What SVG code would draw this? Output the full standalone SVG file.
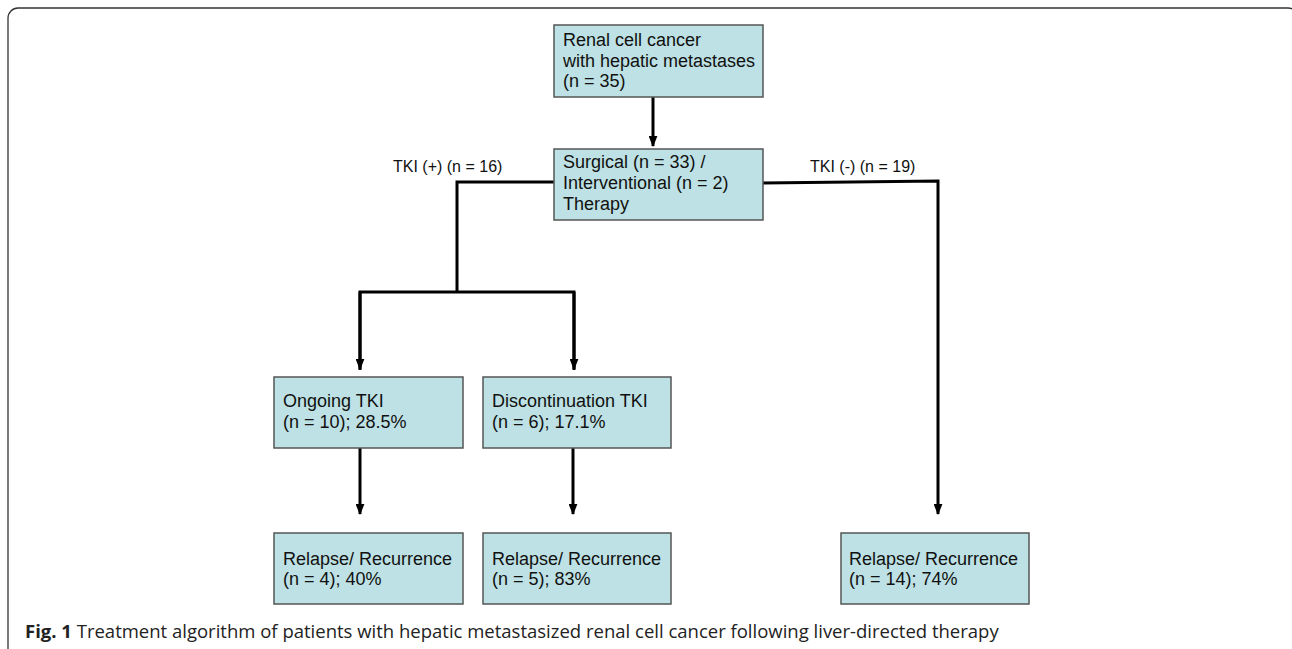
<svg xmlns="http://www.w3.org/2000/svg" width="1292" height="649" viewBox="0 0 1292 649">
<defs>
<style>
.box{fill:#bde1e4;stroke:#555;stroke-width:1.5}
.t{font-family:"Liberation Sans",Arial,sans-serif;font-size:18px;fill:#111}
.lbl{font-family:"Liberation Sans",Arial,sans-serif;font-size:16px;fill:#111}
.ln{fill:none;stroke:#000;stroke-width:3}
.cap{font-family:"Open Sans","Noto Sans",sans-serif;font-size:18.5px;fill:#222}
</style>
<marker id="ah" viewBox="0 0 10 8" refX="9" refY="4" markerWidth="11" markerHeight="9" markerUnits="userSpaceOnUse" orient="auto">
<path d="M0,0 L10,4 L0,8 Z" fill="#000"/>
</marker>
</defs>
<rect x="8" y="8" width="1290" height="700" rx="10" fill="none" stroke="#333" stroke-width="1.3"/>
<g id="connectors">
<line class="ln" x1="653" y1="97" x2="653" y2="146" marker-end="url(#ah)"/>
<polyline class="ln" points="554,182 457,182 457,292"/>
<polyline class="ln" points="360,370 360,292 574,292 574,370"/>
<line class="ln" x1="360" y1="292" x2="360" y2="369" marker-end="url(#ah)"/>
<line class="ln" x1="574" y1="292" x2="574" y2="369" marker-end="url(#ah)"/>
<polyline class="ln" points="763,183 938,181 938,514" marker-end="url(#ah)"/>
<line class="ln" x1="360" y1="448" x2="360" y2="514" marker-end="url(#ah)"/>
<line class="ln" x1="573" y1="448" x2="573" y2="514" marker-end="url(#ah)"/>
<text class="lbl" x="393" y="172">TKI (+) (n = 16)</text>
<text class="lbl" x="810" y="172">TKI (-) (n = 19)</text>
</g>
<g id="n1">
<rect class="box" x="554" y="25" width="209" height="72"/>
<text class="t" x="563" y="46">Renal cell cancer</text>
<text class="t" x="563" y="67">with hepatic metastases</text>
<text class="t" x="563" y="87">(n = 35)</text>
</g>
<g id="n2">
<rect class="box" x="554" y="149" width="209" height="71"/>
<text class="t" x="563" y="168">Surgical (n = 33) /</text>
<text class="t" x="563" y="189">Interventional (n = 2)</text>
<text class="t" x="563" y="210">Therapy</text>
</g>
<g id="n3">
<rect class="box" x="274" y="377" width="189" height="71"/>
<text class="t" x="283" y="407">Ongoing TKI</text>
<text class="t" x="283" y="428">(n = 10); 28.5%</text>
</g>
<g id="n4">
<rect class="box" x="483" y="377" width="188" height="71"/>
<text class="t" x="492" y="407">Discontinuation TKI</text>
<text class="t" x="492" y="428">(n = 6); 17.1%</text>
</g>
<g id="n5">
<rect class="box" x="274" y="533" width="189" height="71"/>
<text class="t" x="283" y="565">Relapse/ Recurrence</text>
<text class="t" x="283" y="585">(n = 4); 40%</text>
</g>
<g id="n6">
<rect class="box" x="483" y="533" width="188" height="71"/>
<text class="t" x="492" y="565">Relapse/ Recurrence</text>
<text class="t" x="492" y="585">(n = 5); 83%</text>
</g>
<g id="n7">
<rect class="box" x="841" y="533" width="188" height="71"/>
<text class="t" x="849" y="565">Relapse/ Recurrence</text>
<text class="t" x="849" y="585">(n = 14); 74%</text>
</g>
<text class="cap" x="25" y="638"><tspan font-weight="bold">Fig. 1</tspan> Treatment algorithm of patients with hepatic metastasized renal cell cancer following liver-directed therapy</text>
</svg>
